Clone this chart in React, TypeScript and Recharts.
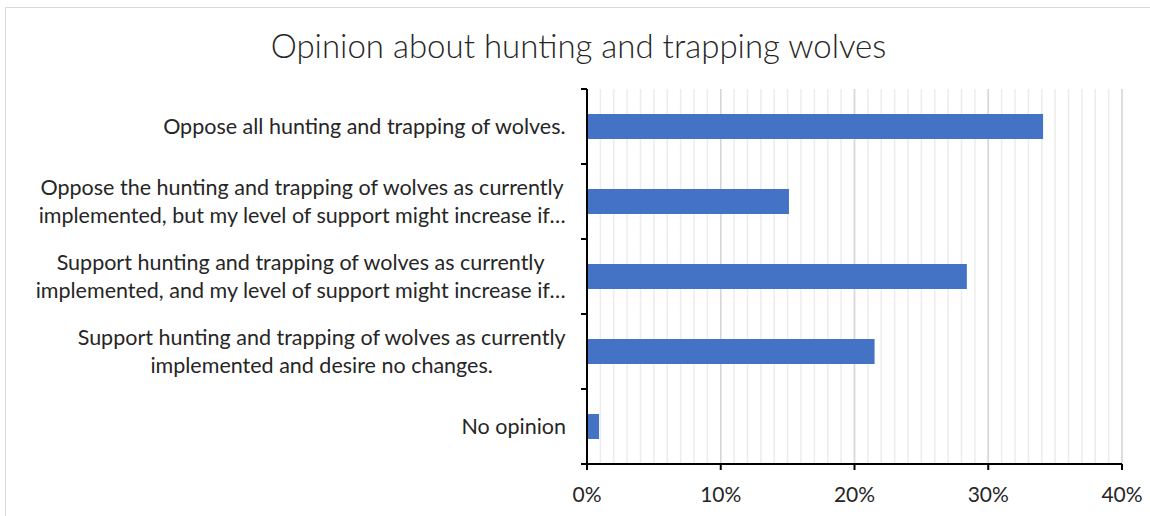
import { BarChart, Bar, XAxis, YAxis, CartesianGrid } from 'recharts';

// answers, top to bottom as drawn
const categories = [
  'Oppose all hunting and trapping of wolves.',
  'Oppose the hunting and trapping of wolves as currently implemented, but my level of support might increase if…',
  'Support hunting and trapping of wolves as currently implemented, and my level of support might increase if…',
  'Support hunting and trapping of wolves as currently implemented and desire no changes.',
  'No opinion',
];
const shares = [34.1, 15.1, 28.4, 21.5, 0.9];

const majorTicks = [0, 10, 20, 30, 40];
const minorTicks = Array.from({ length: 41 }, (_, i) => i);

const data = categories.map((label, i) => ({ label, share: shares[i] }));

const FONT = 'Lato, "Open Sans", sans-serif';
const TEXT = '#262626';
const LABEL_SIZE = 21.5;
const LINE_HEIGHT = 28;
const WRAP_WIDTH = 560;
const TICK_GAP = 21;

let ctx: CanvasRenderingContext2D | null = null;
const measure = (s: string) => {
  if (!ctx) ctx = document.createElement('canvas').getContext('2d');
  if (!ctx) return s.length * LABEL_SIZE * 0.5;
  ctx.font = `${LABEL_SIZE}px Lato`;
  return ctx.measureText(s).width;
};

const wrap = (text: string) => {
  const lines: string[] = [];
  let cur = '';
  for (const w of text.split(' ')) {
    const next = cur ? cur + ' ' + w : w;
    if (cur && measure(next) > WRAP_WIDTH) {
      lines.push(cur);
      cur = w;
    } else cur = next;
  }
  if (cur) lines.push(cur);
  return lines;
};

// excel-style label: block is right aligned, lines centred inside it.
// the tick marks sit on the band edges, not the band centres
const CategoryTick = (props: any) => {
  const { x, y, payload, index, visibleTicksCount } = props;
  const axisX = x + TICK_GAP;
  const half = payload.offset ?? 0;
  const edges = [y - half];
  if (index === visibleTicksCount - 1) edges.push(y + half);
  const lines = wrap(String(payload.value));
  const widest = Math.max(...lines.map(measure));
  const cx = x - widest / 2;
  const top = y - ((lines.length - 1) * LINE_HEIGHT) / 2;
  return (
    <g>
      {half > 0 &&
        edges.map((e, i) => (
          <line key={i} x1={axisX - 6} x2={axisX} y1={e} y2={e} stroke="#000" strokeWidth={2} />
        ))}
      <text textAnchor="middle" fontSize={LABEL_SIZE} fontFamily={FONT} fill={TEXT}>
        {lines.map((l, i) => (
          <tspan key={i} x={cx} y={top + i * LINE_HEIGHT} dy="0.35em">
            {l}
          </tspan>
        ))}
      </text>
    </g>
  );
};

export default function App() {
  return (
    <div
      style={{
        position: 'fixed',
        left: 5,
        top: 7,
        border: '1px solid #d9d9d9',
        background: '#fff',
      }}
    >
      <div
        style={{
          position: 'absolute',
          left: 0,
          right: 0,
          top: 21,
          textAlign: 'center',
          fontFamily: FONT,
          fontWeight: 300,
          fontSize: 33,
          lineHeight: '33px',
          color: TEXT,
        }}
      >
        Opinion about hunting and trapping wolves
      </div>
      <BarChart
        width={1145}
        height={520}
        data={data}
        layout="vertical"
        margin={{ top: 81, right: 29, bottom: 24, left: 20 }}
      >
        <CartesianGrid horizontal={false} verticalValues={minorTicks} stroke="#ececec" strokeWidth={1.5} />
        <CartesianGrid horizontal={false} stroke="#d6d6d6" strokeWidth={1.5} />
        <XAxis
          type="number"
          domain={[0, 40]}
          ticks={majorTicks}
          interval={0}
          tickFormatter={(v) => `${v}%`}
          axisLine={{ stroke: '#000', strokeWidth: 2 }}
          tickLine={{ stroke: '#000', strokeWidth: 2 }}
          tickSize={6}
          tickMargin={17}
          tick={{ fill: TEXT, fontSize: 21, fontFamily: FONT }}
          height={40}
        />
        <YAxis
          type="category"
          dataKey="label"
          width={561}
          interval={0}
          tickSize={0}
          tickMargin={TICK_GAP}
          axisLine={{ stroke: '#000', strokeWidth: 2 }}
          tickLine={false}
          tick={<CategoryTick />}
        />
        <Bar dataKey="share" fill="#4472C4" barSize={25} isAnimationActive={false} />
      </BarChart>
    </div>
  );
}
